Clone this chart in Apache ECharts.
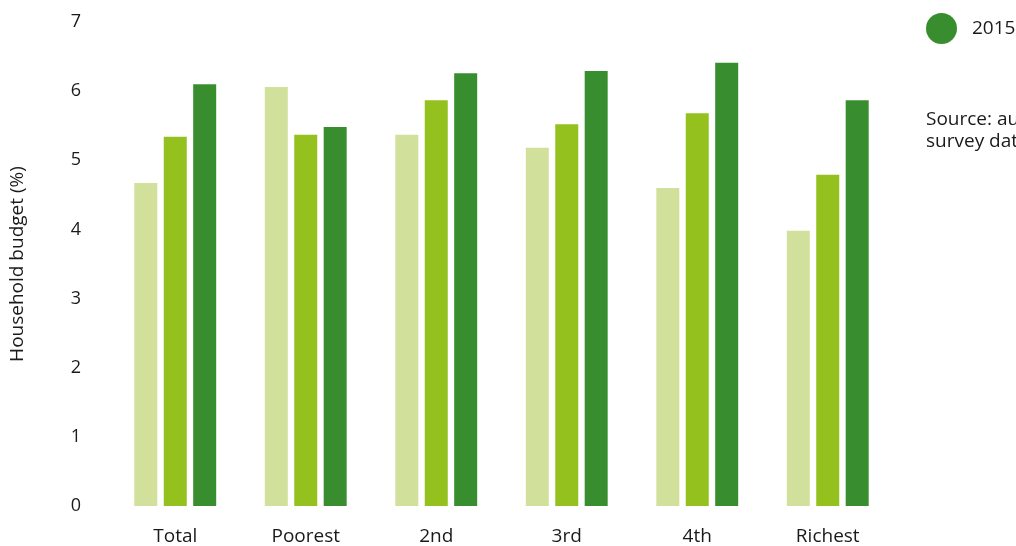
<!DOCTYPE html>
<html>
<head>
<meta charset="utf-8">
<script src="https://cdn.jsdelivr.net/npm/echarts@6/dist/echarts.min.js"></script>
<style>
html,body{margin:0;padding:0;background:#fff;}
#chart{width:1016px;height:546px;}
</style>
</head>
<body>
<div id="chart"></div>
<script>
const categories = ['Total', 'Poorest', '2nd', '3rd', '4th', 'Richest'];
const seriesNames = ['2005', '2010', '2015'];
const valuesA = [4.67, 6.06, 5.37, 5.18, 4.60, 3.98];
const valuesB = [5.34, 5.37, 5.87, 5.52, 5.68, 4.79];
const valuesC = [6.10, 5.48, 6.26, 6.29, 6.41, 5.87];
const yTicks = [0, 1, 2, 3, 4, 5, 6, 7];
const legendShown = ['2015'];
const sourceLines = ["Source: authors' calculations based on", 'survey data'];

const colors = ['#d1e09b', '#95c11f', '#388e2e'];
const font = '"Open Sans", "Noto Sans", sans-serif';

const chart = echarts.init(document.getElementById('chart'), null, {renderer: 'canvas'});
const allVals = [valuesA, valuesB, valuesC];
chart.setOption({
  animation: false,
  textStyle: {fontFamily: font},
  grid: {left: 110, right: 123, top: 22, bottom: 40, containLabel: false},
  legend: {
    data: legendShown,
    left: 921, top: 8,
    orient: 'vertical',
    icon: 'circle',
    itemWidth: 31, itemHeight: 31,
    itemGap: 10,
    textStyle: {fontSize: 19, color: '#1a1a1a', fontFamily: font, padding: [3, 0, 0, 10]}
  },
  graphic: [{
    type: 'text', left: 926, top: 109,
    style: {text: sourceLines.join('\n'), font: '19px ' + font, fill: '#1a1a1a', lineHeight: 22}
  }],
  xAxis: {
    type: 'category', data: categories,
    axisLine: {show: false}, axisTick: {show: false},
    axisLabel: {fontSize: 19, color: '#1a1a1a', margin: 21}
  },
  yAxis: {
    type: 'value', min: yTicks[0], max: yTicks[yTicks.length - 1], interval: 1,
    name: 'Household budget (%)', nameLocation: 'middle', nameGap: 83,
    nameTextStyle: {fontSize: 19, color: '#1a1a1a'},
    splitLine: {show: false}, axisLine: {show: false}, axisTick: {show: false},
    axisLabel: {fontSize: 18, color: '#1a1a1a', margin: 29}
  },
  series: seriesNames.map((n, i) => ({
    name: n, type: 'bar', data: allVals[i],
    barWidth: 23, barGap: '28%',
    itemStyle: {color: colors[i]}
  }))
});
</script>
</body>
</html>
